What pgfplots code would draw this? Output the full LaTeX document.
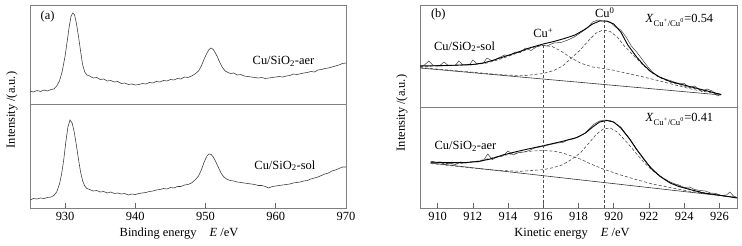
\documentclass[border=0pt]{standalone}
\usepackage{fontspec}
\setmainfont{Liberation Serif}
\usepackage{pgfplots}
\pgfplotsset{compat=1.18}
\pgfplotsset{
  xpsax/.style={
    scale only axis, height=203bp, ymin=0, ymax=203,
    ytick=\empty, xtick pos=bottom, tick align=inside,
    axis line style={black!50, line width=0.7bp},
    major tick length=5bp,
    every tick/.style={black!60, line width=0.6bp},
    ticklabel style={font=\fontsize{12.5}{14}\selectfont},
    /pgf/number format/assume math mode=true,
    /pgf/number format/1000 sep={},
  },
  raw/.style={black!75, line width=0.6bp, no marks},
  fit/.style={black, line width=0.9bp, no marks},
  comp/.style={black!70, line width=0.6bp, no marks, dash pattern=on 3bp off 2bp},
  base/.style={black!80, line width=0.6bp, no marks},
}
\begin{document}
\fontsize{12.5}{14}\selectfont
\begin{tikzpicture}
\useasboundingbox (0,0) rectangle (742bp,246bp);
% ---------------- panel (a)
\begin{axis}[xpsax, at={(30bp,38bp)}, anchor=south west, width=316bp,
  xmin=925, xmax=970, xtick={930,940,...,970}]
\addplot[raw] coordinates {
(925,117)(925.5,116)(926,117.5)(926.5,116.5)(927,118)(927.5,117)(928,118.5)(928.4,119)(928.8,122)(929.2,127)(929.6,137)(930,152)(930.3,167)(930.6,182)(930.85,192)(931.1,195)(931.35,193)(931.6,185)(931.9,172)(932.2,157)(932.5,143)(932.8,136)(933.1,133)(933.5,132)(934,130)(934.5,130.5)(935,128.5)(935.5,129)(936,127)(936.5,127.5)(937,126)(937.5,126.5)(938,124.5)(938.5,125)(939,123.5)(939.5,124)(940,123)(940.5,123.5)(941,124.5)(941.5,124)(942,125.5)(942.5,125)(943,126.5)(943.5,126)(944,127.5)(944.5,127)(945,128.5)(945.5,128)(946,129.5)(946.5,129)(947,131)(947.5,130.5)(948,132)(948.5,134)(949,137)(949.4,142)(949.8,149)(950.2,155)(950.5,158.5)(950.8,160)(951.1,158.5)(951.4,155)(951.7,151)(952,146)(952.4,140.5)(952.8,137)(953.2,135.5)(953.6,134.5)(954,135)(954.5,133)(955,133.5)(955.5,132)(956,131.5)(956.5,131)(957,130.5)(957.5,130)(958,130.5)(958.5,129.5)(959,130)(959.5,130.5)(960,131)(960.5,131.5)(961,131)(961.5,132)(962,132.5)(962.5,134)(963,133.5)(964,135)(964.5,135.5)(965,136.5)(965.5,136)(966,138)(966.5,138.5)(967,139.5)(967.5,140)(968,141)(968.5,142)(969,143)(969.5,144.5)(970,145)};
\addplot[raw] coordinates {
(925,8)(925.5,9.5)(926,9)(926.5,10)(927,9.5)(927.5,10.5)(928,11)(928.4,12.5)(928.8,16)(929.2,24)(929.5,34)(929.8,48)(930.1,66)(930.4,81)(930.7,88)(931,85)(931.3,76)(931.6,63)(931.9,49)(932.2,36)(932.5,27)(932.8,22)(933.1,19.5)(933.5,18.5)(934,17)(934.5,17.5)(935,16)(935.5,16.5)(936,15)(936.5,16)(937,14.5)(937.5,15)(938,14)(938.5,14.5)(939,13)(939.5,14)(940,13.5)(940.5,14.5)(941,15)(941.5,15.5)(942,16.5)(942.5,17)(943,18)(943.5,18.5)(944,19.5)(944.5,19)(945,20.5)(945.5,20)(946,21.5)(946.5,21.5)(947,23)(947.5,23.5)(948,25)(948.5,28)(949,32)(949.4,38)(949.8,46)(950.2,52)(950.5,54)(950.8,53.5)(951.1,51)(951.4,47)(951.8,41)(952.2,35)(952.6,31)(953,29)(953.5,27.5)(954,27)(954.5,26)(955,25.5)(955.5,25)(956,24.5)(956.5,24)(957,23.5)(957.5,22.5)(958,22.5)(958.5,21.5)(959,20)(959.5,21.5)(960,22)(960.5,22.5)(961,23)(961.5,23.5)(962,24)(962.5,25)(963,25.5)(963.5,26)(964,27)(964.5,27.5)(965,29)(965.5,30)(966,31)(966.5,32.5)(967,34)(967.5,35)(968,37)(968.5,38)(969,39.5)(969.5,41)(970,41)};
\draw[black!50, line width=0.7bp] (rel axis cs:0,0.512) -- (rel axis cs:1,0.512);
\node at (axis cs:927.5,191.3) {(a)};
\node at (axis cs:961.1,146.3) {Cu/SiO\textsubscript{2}-aer};
\node at (axis cs:961.3,42.3) {Cu/SiO\textsubscript{2}-sol};
\end{axis}
% ---------------- panel (b)
\begin{axis}[xpsax, at={(420bp,38bp)}, anchor=south west, width=317bp,
  xmin=909, xmax=927, xtick={910,912,...,926}]
% top: Cu/SiO2-sol
\addplot[base] coordinates {(909,140)(926.1,113)};
\addplot[comp] coordinates {(909,141.5)(910,142)(911,142.5)(912,143.3)(912.8,145)(913.5,148.5)(914.3,153.5)(915,158)(915.5,161)(916,162.5)(916.5,161.5)(917,157)(917.5,151)(918.1,145)(918.8,141)(919.8,138.5)(920.8,134.5)(921.7,131)(922.5,127.5)(923.5,123)(924.5,118.5)(925.3,116)(926.1,113.5)};
\addplot[comp] coordinates {(909,140.5)(911,137.3)(913,134.2)(914,132.8)(915,132.5)(916,134.5)(916.6,137.5)(917.1,142)(917.6,150)(918.1,158)(918.6,168)(919,175)(919.4,178)(919.8,176.5)(920.2,171)(920.6,162)(921.1,153)(921.6,144)(922.1,136)(922.6,130.5)(923.2,126)(924.2,121)(925.1,117.5)(926.1,113.5)};
\addplot[raw, line width=0.5bp] coordinates {(909,142)(909.25,143)(909.5,147)(909.75,142.5)(910.1,142)(910.36,146)(910.6,142.5)(911,142.5)(911.2,147)(911.45,143)(911.8,143)(912,148)(912.25,144)(912.6,145)(912.8,150)(913.1,147)(913.5,150.5)(913.8,153)(914.1,152.5)(914.4,156)(914.7,155.5)(915,160)(915.3,157.5)(915.6,161)(915.9,163)(916.2,162)(916.6,165)(917,165.5)(917.4,168)(917.8,171.5)(918.1,175)(918.5,180)(918.8,186)(919.1,188)(919.5,186.5)(919.8,186)(920.1,181)(920.4,178)(920.7,171)(921,162)(921.3,156)(921.6,149)(921.9,142)(922.2,136)(922.5,131.5)(922.9,129)(923.2,127.5)(923.6,125)(924,124.5)(924.3,120.5)(924.6,122)(925,116.5)(925.3,119)(925.6,117)(925.9,112)(926.1,114)};
\addplot[fit] coordinates {(909,142)(910,142.3)(911,142.8)(912,143.5)(912.6,145)(913.2,148)(913.8,151.5)(914.5,155.5)(915.2,160)(916,164)(916.6,166.5)(917.2,169.5)(917.8,173)(918.3,178)(918.8,184)(919.2,187)(919.6,187)(920,184)(920.4,176)(920.8,163)(921.3,151)(921.7,143)(922.1,136.5)(922.6,131)(923.2,126.5)(924.2,122)(925.1,118)(926.1,113.5)};
% bottom: Cu/SiO2-aer
\addplot[base] coordinates {(909.6,45)(927,10.5)};
\addplot[comp] coordinates {(909.6,45.5)(911,44)(912,46)(912.8,49)(913.7,52.3)(914.7,55.7)(915.4,57)(916,57.5)(916.6,56.8)(917.1,55)(917.6,52)(918.1,49)(918.7,44)(919.4,39)(920.3,33.5)(921.3,28.3)(922.2,24)(923.2,20.5)(924.2,17)(925.2,14.5)(926.1,12.5)(927,10.5)};
\addplot[comp] coordinates {(909.6,44.5)(911,41.8)(912.5,39)(913.5,37.5)(914.7,36.7)(916,38.3)(916.6,40.5)(917.1,43.3)(917.6,48.5)(918.1,55)(918.6,65)(919,73.5)(919.4,79)(919.8,80)(920.2,76)(920.6,68.5)(921,60.5)(921.4,52)(921.8,44)(922.2,37.5)(922.7,31)(923.2,25.5)(923.8,21.5)(924.5,18)(925.2,15)(926.1,12.5)(927,10.3)};
\addplot[raw, line width=0.5bp] coordinates {(909.6,47)(909.9,45.5)(910.2,46)(910.4,43.5)(910.7,44.5)(911,43.5)(911.3,46)(911.6,45)(912,46.5)(912.3,46)(912.6,47.5)(912.85,54)(913.1,48.5)(913.4,51)(913.7,52)(914,57)(914.3,53)(914.6,55.5)(914.9,56)(915.2,57.5)(915.5,60)(915.8,61)(916.1,62)(916.4,63.5)(916.8,65)(917.1,65.5)(917.4,68)(917.7,69)(918,71)(918.3,74)(918.6,79)(918.9,84)(919.2,87)(919.5,88)(919.8,87.5)(920.1,84.5)(920.4,81)(920.7,74)(921,67)(921.3,59)(921.6,52)(921.9,45)(922.2,39)(922.5,34)(922.8,30)(923.1,27)(923.4,24.5)(923.7,23)(924,20.5)(924.3,21)(924.6,18.5)(924.9,17.5)(925.2,17)(925.5,15)(925.8,14.5)(926.1,12.5)(926.4,13)(926.6,16)(926.8,12)(927,10.5)};
\addplot[fit] coordinates {(909.6,46)(910.5,45.3)(911.5,45.3)(912.3,46.5)(913,49)(913.7,53)(914.7,57.3)(916,62.3)(917.1,66.7)(917.9,70.5)(918.4,75)(918.8,81)(919.2,86)(919.6,87.5)(920,86)(920.4,80)(920.9,69)(921.3,58.5)(921.7,49)(922.1,40)(922.6,32)(923.2,25)(923.7,21.5)(924.15,19.3)(925.1,15)(926.05,12.7)(927,10)};
% position markers
\addplot[comp] coordinates {(916,0)(916,163)};
\addplot[comp] coordinates {(919.47,0)(919.47,188)};
\draw[black!50, line width=0.7bp] (rel axis cs:0,0.495) -- (rel axis cs:1,0.495);
\node at (axis cs:910.04,193) {(b)};
\node at (axis cs:919.49,195.3) {Cu\textsuperscript{0}};
\node at (axis cs:916.0,174.7) {Cu\textsuperscript{+}};
\node at (axis cs:911.53,161.3) {Cu/SiO\textsubscript{2}-sol};
\node at (axis cs:923.73,187.3) {\textit{X}\textsubscript{Cu\textsuperscript{+}/Cu\textsuperscript{0}}=0.54};
\node at (axis cs:923.73,88.7) {\textit{X}\textsubscript{Cu\textsuperscript{+}/Cu\textsuperscript{0}}=0.41};
\node at (axis cs:911.58,61.3) {Cu/SiO\textsubscript{2}-aer};
\end{axis}
% axis titles
\node[rotate=90] at (12bp,136bp) {Intensity /(a.u.)};
\node[rotate=90] at (402bp,133bp) {Intensity /(a.u.)};
\node at (179bp,12bp) {Binding energy\hspace{13bp}\textit{E} /eV};
\node at (572bp,12bp) {Kinetic energy\hspace{13bp}\textit{E} /eV};
\end{tikzpicture}
\end{document}
